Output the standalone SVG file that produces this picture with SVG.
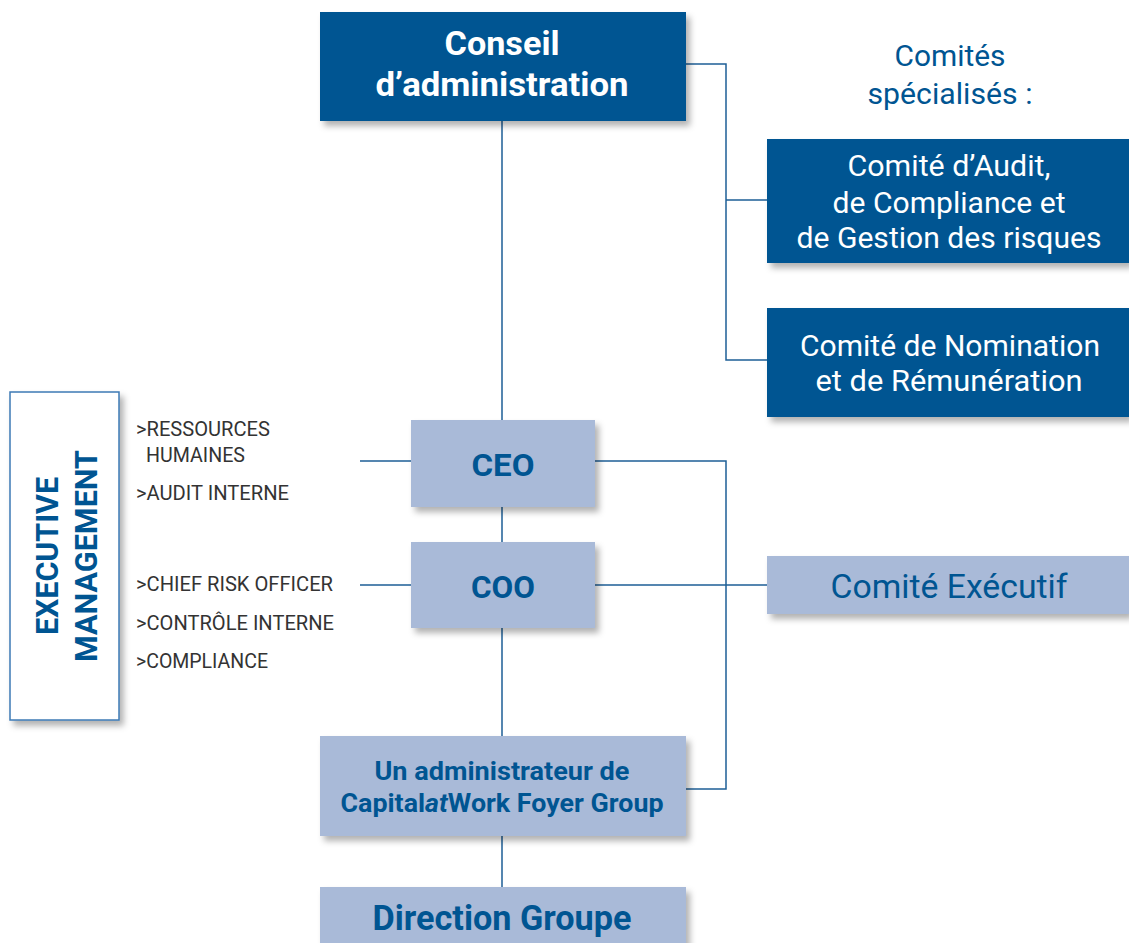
<svg xmlns="http://www.w3.org/2000/svg" width="1129" height="943" viewBox="0 0 1129 943">
<defs>
<filter id="sh" x="-10%" y="-10%" width="130%" height="140%">
<feDropShadow dx="4" dy="5" stdDeviation="3" flood-color="#000" flood-opacity="0.3"/>
</filter>
<style>
.dark{fill:#005592;filter:url(#sh);}
.light{fill:#a9bad8;filter:url(#sh);}
.wt{fill:#fff;font-family:Roboto,"Liberation Sans",sans-serif;text-anchor:middle;}
.bt{fill:#005592;font-family:Roboto,"Liberation Sans",sans-serif;text-anchor:middle;}
.lb{fill:#333;font-family:Roboto,"Liberation Sans",sans-serif;font-size:19.5px;}
.cn{fill:none;stroke:#1e5f96;stroke-width:1.5;}
</style>
</defs>
<rect width="1129" height="943" fill="#fff"/>
<g id="connectors">
<path class="cn" d="M686 64H726V360H767M726 200H767"/>
<path class="cn" d="M502 121V420M502 507V542M502 628V736M502 836V887"/>
<path class="cn" d="M595 461H726V789H686M595 585H767"/>
<path class="cn" d="M360 461H411M360 585H411"/>
</g>
<g id="conseil">
<rect class="dark" x="320" y="12" width="366" height="109"/>
<text class="wt" x="502" y="55" font-size="34" font-weight="bold" textLength="115" lengthAdjust="spacingAndGlyphs">Conseil</text>
<text class="wt" x="502" y="96" font-size="34" font-weight="bold" textLength="253" lengthAdjust="spacingAndGlyphs">d’administration</text>
</g>
<g id="comites-label">
<text class="bt" x="950" y="66" font-size="29" textLength="111" lengthAdjust="spacingAndGlyphs">Comités</text>
<text class="bt" x="950" y="104" font-size="29" textLength="165" lengthAdjust="spacingAndGlyphs">spécialisés :</text>
</g>
<g id="comite-audit">
<rect class="dark" x="767" y="139" width="362" height="124"/>
<text class="wt" x="949" y="176" font-size="29" textLength="203" lengthAdjust="spacingAndGlyphs">Comité d’Audit,</text>
<text class="wt" x="949" y="213" font-size="29" textLength="233" lengthAdjust="spacingAndGlyphs">de Compliance et</text>
<text class="wt" x="949" y="248" font-size="29" textLength="305" lengthAdjust="spacingAndGlyphs">de Gestion des risques</text>
</g>
<g id="comite-nomination">
<rect class="dark" x="767" y="308" width="362" height="109"/>
<text class="wt" x="950" y="356" font-size="29" textLength="300" lengthAdjust="spacingAndGlyphs">Comité de Nomination</text>
<text class="wt" x="949" y="391" font-size="29" textLength="267" lengthAdjust="spacingAndGlyphs">et de Rémunération</text>
</g>
<g id="exec-mgmt">
<rect x="10" y="392" width="109" height="328" fill="#fff" stroke="#3d7ab5" stroke-width="1.5" filter="url(#sh)"/>
<text class="bt" transform="translate(58 556) rotate(-90)" font-size="32" font-weight="bold" textLength="158" lengthAdjust="spacingAndGlyphs">EXECUTIVE</text>
<text class="bt" transform="translate(97 556) rotate(-90)" font-size="32" font-weight="bold" textLength="212" lengthAdjust="spacingAndGlyphs">MANAGEMENT</text>
</g>
<g id="labels">
<text class="lb" x="136" y="436" textLength="134" lengthAdjust="spacingAndGlyphs">&gt;RESSOURCES</text>
<text class="lb" x="146" y="462" textLength="99" lengthAdjust="spacingAndGlyphs">HUMAINES</text>
<text class="lb" x="136" y="500" textLength="153" lengthAdjust="spacingAndGlyphs">&gt;AUDIT INTERNE</text>
<text class="lb" x="136" y="591" textLength="197" lengthAdjust="spacingAndGlyphs">&gt;CHIEF RISK OFFICER</text>
<text class="lb" x="136" y="630" textLength="198" lengthAdjust="spacingAndGlyphs">&gt;CONTRÔLE INTERNE</text>
<text class="lb" x="136" y="668" textLength="132" lengthAdjust="spacingAndGlyphs">&gt;COMPLIANCE</text>
</g>
<g id="ceo">
<rect class="light" x="411" y="420" width="184" height="87"/>
<text class="bt" x="503" y="476" font-size="32" font-weight="bold" textLength="63" lengthAdjust="spacingAndGlyphs">CEO</text>
</g>
<g id="coo">
<rect class="light" x="411" y="542" width="184" height="86"/>
<text class="bt" x="503" y="598" font-size="32" font-weight="bold" textLength="64" lengthAdjust="spacingAndGlyphs">COO</text>
</g>
<g id="comite-executif">
<rect class="light" x="767" y="556" width="362" height="58"/>
<text class="bt" x="949" y="598" font-size="33" textLength="237" lengthAdjust="spacingAndGlyphs">Comité Exécutif</text>
</g>
<g id="administrateur">
<rect class="light" x="320" y="736" width="366" height="100"/>
<text class="bt" x="502" y="780" font-size="26" font-weight="bold" textLength="255" lengthAdjust="spacingAndGlyphs">Un administrateur de</text>
<text class="bt" x="502" y="812" font-size="26" font-weight="bold" textLength="323" lengthAdjust="spacingAndGlyphs">Capital<tspan font-style="italic">at</tspan>Work Foyer Group</text>
</g>
<g id="direction">
<rect class="light" x="320" y="887" width="366" height="60"/>
<text class="bt" x="502" y="930" font-size="35" font-weight="bold" textLength="259" lengthAdjust="spacingAndGlyphs">Direction Groupe</text>
</g>
</svg>
